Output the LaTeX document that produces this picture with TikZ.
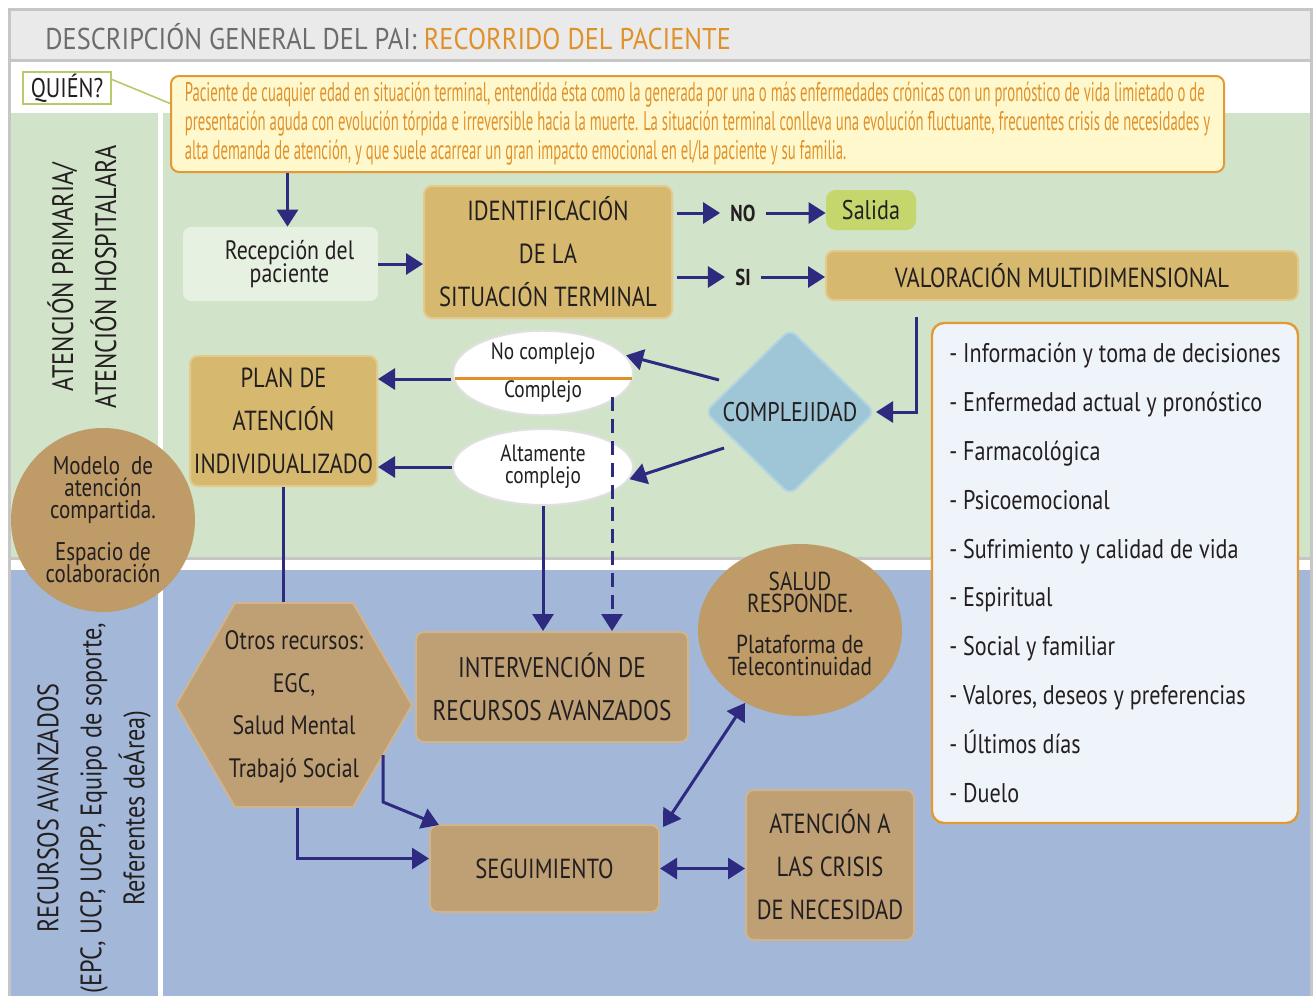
\documentclass[tikz,border=0pt]{standalone}
\usepackage{fontspec}
\setmainfont{PT Sans}[FakeStretch=0.82]
\newfontfamily\narrowfont{PT Sans}[FakeStretch=0.545]
\newfontfamily\titlefont{PT Sans}[FakeStretch=0.88]
\usetikzlibrary{arrows.meta,shapes.geometric,calc}
\definecolor{framegray}{HTML}{C6C6C6}
\definecolor{titlebg}{HTML}{EAEAEA}
\definecolor{titlegray}{HTML}{6D6D6D}
\definecolor{orangetxt}{HTML}{E0912A}
\definecolor{orangeedge}{HTML}{E39A34}
\definecolor{greenbg}{HTML}{D1E3C8}
\definecolor{bluebg}{HTML}{A3B8D8}
\definecolor{gold}{HTML}{D6B96E}
\definecolor{goldedge}{HTML}{E3CA8C}
\definecolor{tan}{HTML}{BFA075}
\definecolor{tanedge}{HTML}{CFB48E}
\definecolor{tancirc}{HTML}{BF9B68}
\definecolor{yellowbg}{HTML}{FFF8CC}
\definecolor{arrowc}{HTML}{2E2A80}
\definecolor{diam}{HTML}{9FC6D6}
\definecolor{diamedge}{HTML}{B2D5E3}
\definecolor{listbg}{HTML}{EFF3FA}
\definecolor{salgreen}{HTML}{C4D66C}
\definecolor{recgreen}{HTML}{E7F1E1}
\definecolor{txtdark}{HTML}{231F20}
\definecolor{qgreen}{HTML}{B5CC6A}
\newcommand{\tightfont}[2]{\fontsize{#1}{#2}\selectfont\lineskiplimit=-20pt\relax}
\begin{document}
\begin{tikzpicture}[x=0.5pt,y=-0.5pt,
  arr/.style={draw=arrowc, line width=1.5pt, -{Triangle[length=8.5pt,width=10.5pt]}},
  darr/.style={draw=arrowc, line width=1.5pt, {Triangle[length=8.5pt,width=10.5pt]}-{Triangle[length=8.5pt,width=10.5pt]}},
  plainline/.style={draw=arrowc, line width=1.5pt},
  goldbox/.style={rectangle, rounded corners=4pt, fill=gold, draw=goldedge, line width=1pt, text=txtdark, align=center, inner sep=0pt, font=\tightfont{13.8}{21.5}},
  tanbox/.style={goldbox, fill=tan, draw=tanedge},
  lbl/.style={inner xsep=5pt, inner ysep=2pt, text=txtdark, font=\bfseries\fontsize{11.5}{12}\selectfont},
  oval/.style={ellipse, fill=white, draw=black!12, line width=1pt, inner sep=0pt, minimum width=90pt, minimum height=38pt, text=txtdark, align=center},
  tancircle/.style={ellipse, fill=tancirc, inner sep=0pt, text=txtdark, align=center},
  sidetxt/.style={rotate=90, align=center, text=txtdark}
]
\useasboundingbox (0,0) rectangle (1316,996);
% backgrounds
\fill[white] (0,0) rectangle (1316,996);
\fill[titlebg] (10,10) rectangle (1310,60);
\fill[greenbg] (10,113) rectangle (1310,557);
\fill[bluebg] (10,570) rectangle (1310,996);
\draw[framegray, line width=1.5pt] (10,60) -- (1310,60);
\draw[framegray, line width=1.5pt] (10,558) -- (1310,558);
\draw[framegray, line width=1.5pt] (9,996) -- (9,9) -- (1311,9) -- (1311,996);
\draw[white, line width=2.5pt] (160,113) -- (160,996);

% title
\node[anchor=west, font=\titlefont\fontsize{15}{15}\selectfont, inner sep=0pt] (title) at (45,37)
  {\textcolor{titlegray}{DESCRIPCIÓN GENERAL DEL PAI:} \textcolor{orangetxt}{RECORRIDO DEL PACIENTE}};

% quien
\node[rectangle, draw=qgreen, line width=1pt, fill=white, minimum width=44pt, minimum height=16pt, inner sep=0pt, text=txtdark, font=\fontsize{13.5}{14}\selectfont] (quien) at (67,88) {QUIÉN?};
\node[rectangle, rounded corners=4pt, fill=yellowbg, draw=orangeedge, line width=1pt, minimum width=526.5pt, minimum height=48pt, inner sep=0pt, align=left, text=orangetxt, font=\narrowfont\tightfont{13.5}{14.5}] (yellow) at (697.5,124)
  {Paciente de cuaquier edad en situación terminal, entendida ésta como la generada por una o más enfermedades crónicas con un pronóstico de vida limietado o de\\
   presentación aguda con evolución tórpida e irreversible hacia la muerte. La situación terminal conlleva una evolución fluctuante, frecuentes crisis de necesidades y\\
   alta demanda de atención, y que suele acarrear un gran impacto emocional en el/la paciente y su familia.};
\draw[qgreen, line width=0.8pt] ($(quien.north east)!0.25!(quien.south east)$) -- ($(yellow.north west)!0.29!(yellow.south west)$);

% side texts
\node[sidetxt, font=\tightfont{14.8}{21.5}] (sideA) at (82,277) {ATENCIÓN PRIMARIA/\\ATENCIÓN HOSPITALARA};
\node[sidetxt, font=\tightfont{14.8}{21.5}] (sideB) at (94,808) {RECURSOS AVANZADOS\\(EPC, UCP, UCPP, Equipo de soporte,\\Referentes deÁrea)};

% main nodes
\node[rectangle, rounded corners=4pt, fill=recgreen, minimum width=97.5pt, minimum height=37pt, inner sep=0pt, align=center, text=txtdark, font=\tightfont{13.3}{11.5}] (recep) at (280.5,264) {\hspace*{9pt}Recepción del\\\hspace*{9pt}paciente};
\node[goldbox, minimum width=124pt, minimum height=66pt] (ident) at (548,252) {IDENTIFICACIÓN\\DE LA\\SITUACIÓN TERMINAL};
\node[lbl] (no) at (743,213) {NO};
\node[lbl] (si) at (743,277) {SI};
\node[rectangle, rounded corners=5pt, fill=salgreen, minimum width=45pt, minimum height=20pt, inner sep=0pt, text=txtdark, font=\fontsize{13.5}{14}\selectfont] (salida) at (871,210) {Salida};
\node[goldbox, minimum width=236pt, minimum height=24.5pt] (valor) at (1062,275.5) {VALORACIÓN MULTIDIMENSIONAL};
\node[diamond, rounded corners=4pt, fill=diam, draw=diamedge, line width=1pt, minimum width=85pt, minimum height=83pt, inner sep=0pt, text=txtdark, font=\fontsize{13.5}{14}\selectfont] (cx) at (790,412) {COMPLEJIDAD};
\node[oval, font=\tightfont{11.8}{19}] (e1) at (543,373) {No complejo\\Complejo};
\node[oval, font=\tightfont{11.8}{11}] (e2) at (543,467) {Altamente\\complejo};
\draw[orangetxt, line width=1.5pt] ($(e1.west)+(3,5)$) -- ($(e1.east)+(-2,5)$);
\node[goldbox, minimum width=93.5pt, minimum height=65pt] (plan) at (283.5,421) {PLAN DE\\ATENCIÓN\\INDIVIDUALIZADO};
\node[tancircle, minimum width=92pt, minimum height=92pt, font=\tightfont{12.8}{11}] (modelo) at (103,520) {Modelo\ \ de\\atención\\compartida.\\[10pt]Espacio de\\colaboración};

\node[rectangle, rounded corners=6pt, fill=listbg, draw=orangeedge, line width=1.2pt, minimum width=183pt, minimum height=250pt, inner sep=0pt, align=left, text=txtdark, font=\tightfont{13.5}{24.4}] (list) at (1115,573)
 {- Información y toma de decisiones\\- Enfermedad actual y pronóstico\\- Farmacológica\\- Psicoemocional\\- Sufrimiento y calidad de vida\\- Espiritual\\- Social y familiar\\- Valores, deseos y preferencias\\- Últimos días\\- Duelo};

\node[regular polygon, regular polygon sides=6, minimum size=118pt, inner sep=0pt, fill=tan, draw=tanedge, line width=1pt] (hex) at (294,705) {};
\node[align=center, text=txtdark, font=\tightfont{13.3}{21.3}] (hext) at (294,707) {Otros recursos:\\EGC,\\Salud Mental\\Trabajó Social};
\node[tanbox, minimum width=136pt, minimum height=55pt, font=\tightfont{14.2}{21.5}] (interv) at (552,687) {INTERVENCIÓN DE\\RECURSOS AVANZADOS};
\node[tancircle, minimum width=99pt, minimum height=86pt, font=\tightfont{13}{11}] (salud) at (800,630) {SALUD\\RESPONDE.\\[9.5pt]Plataforma de\\Telecontinuidad\rule[-6pt]{0pt}{0pt}};
\node[tanbox, minimum width=114.5pt, minimum height=43.5pt] (seg) at (544.5,868.5) {SEGUIMIENTO};
\node[tanbox, minimum width=84pt, minimum height=75pt] (crisis) at (830,865) {ATENCIÓN A\\LAS CRISIS\\DE NECESIDAD};

% connectors
\draw[arr] ($(recep.north |- yellow.south)+(7,0)$) -- ($(recep.north)+(7,0)$);
\draw[arr] (recep.east) -- (recep.east -| ident.west);
\draw[arr] ($(ident.east |- no)+(4,0)$) -- (no.west);
\draw[arr] (no.east) -- (no.east -| salida.west);
\draw[arr] ($(ident.east |- si)+(4,0)$) -- (si.west);
\draw[arr] (si.east) -- (si.east -| valor.west);
\coordinate (v1) at (916,317);
\draw[arr] (v1) |- (cx.east);
\draw[arr] ($(cx.west)+(15,-32)$) -- (e1.12);
\draw[arr] ($(cx.west)+(20,36)$) -- (e2.-8);
\coordinate (e1w) at ($(e1.west)+(-1,6)$);
\draw[arr] (e1w) -- (e1w -| plan.east);
\draw[arr] (e2.west) -- (e2.west -| plan.east);
\draw[plainline] (plan.south) -- (plan.south |- hex.north);
\draw[arr] (e2.south) -- (e2.south |- interv.north);
\coordinate (d1) at ($(e1.center)+(69,24)$);
\draw[arr, dash pattern=on 7pt off 4pt] (d1) -- (d1 |- interv.north);
\coordinate (h1) at ($(hex.center)+(89,50)$);
\coordinate (h1b) at ($(hex.center)+(89,97)$);
\draw[arr] (h1) -- (h1b) -- ($(seg.north west)+(10,1)$);
\draw[arr] ($(hex.south)+(3,0)$) |- ($(seg.west)+(0,-10)$);
\draw[darr] ($(seg.north east)+(3,3)$) -- (salud.233);
\draw[darr] (seg.east) -- (seg.east -| crisis.west);
\end{tikzpicture}
\end{document}
